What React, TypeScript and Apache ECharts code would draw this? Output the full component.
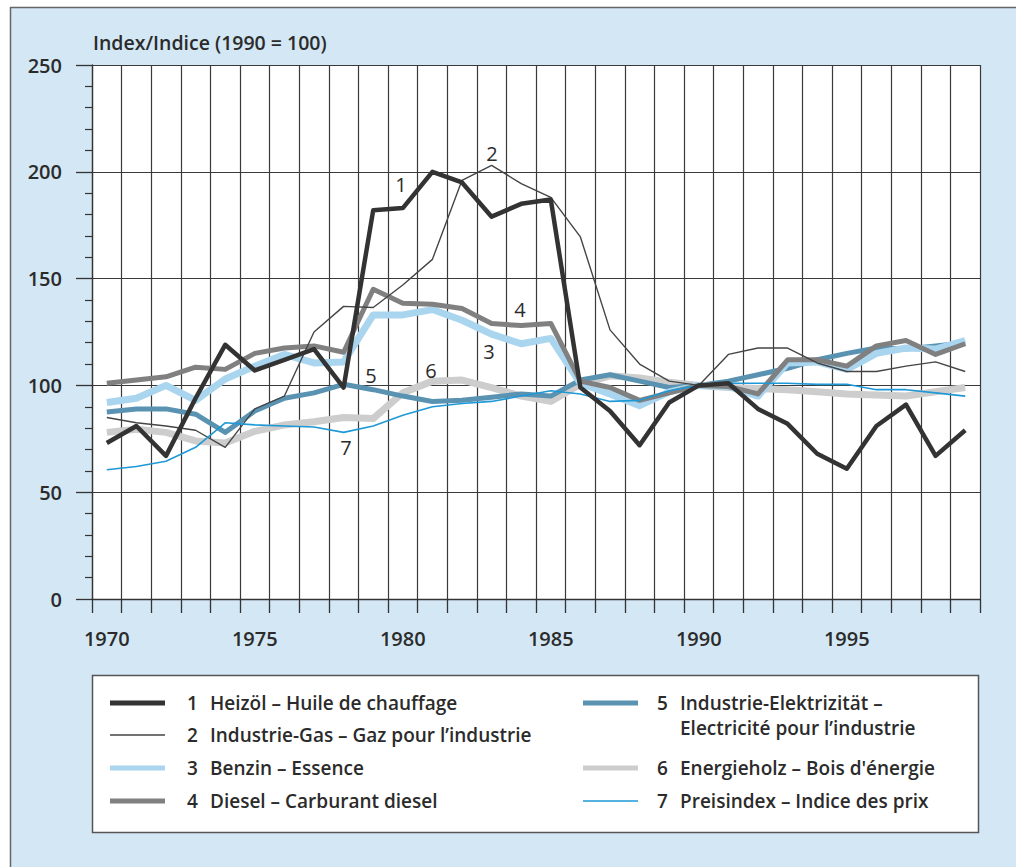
import React, { useEffect, useRef } from "react";
import * as echarts from "echarts";

const years = [
  "1970", "1971", "1972", "1973", "1974", "1975", "1976", "1977", "1978", "1979",
  "1980", "1981", "1982", "1983", "1984", "1985", "1986", "1987", "1988", "1989",
  "1990", "1991", "1992", "1993", "1994", "1995", "1996", "1997", "1998", "1999",
];

const heizoel = [73, 81, 67, 94, 119, 107, 112, 117, 99, 182, 183, 200, 195, 179, 185, 187, 99, 88, 72, 92, 100, 101, 89, 82, 68, 61, 81, 91, 67, 79];
const industrieGas = [85, 82.5, 81, 79, 71, 89, 95, 125, 137, 136.5, 147, 159, 196, 203, 194.5, 188, 169.5, 126, 110, 102, 100, 114.5, 117.5, 117.5, 110.5, 106.5, 106.5, 109, 111, 106.5];
const benzin = [92, 94, 100, 93, 103, 109, 114.5, 110.5, 111, 133, 133, 135.5, 130.5, 124, 119.5, 122, 101, 96, 90.5, 97, 100, 99.5, 95, 110.5, 111, 107.5, 115, 117.5, 117, 121];
const diesel = [101, 102.5, 104, 108.5, 107.5, 115, 117.5, 118.5, 115.5, 145, 138.5, 138, 136, 129, 128, 129, 102, 99, 93, 96.5, 100, 99.5, 96, 112, 112, 109, 118.5, 121, 114.5, 119.5];
const elektrizitaet = [87.5, 89, 89, 86.5, 78, 88, 94, 96.5, 100.5, 98, 95, 92.5, 93, 94.5, 96, 95, 102.5, 105, 102, 99, 100, 102, 105, 108, 112, 115, 117.5, 117, 118.5, 120];
const energieholz = [78, 79.5, 78, 74, 73, 78.5, 81.5, 83, 85, 84.5, 96.5, 102, 102.5, 99, 95, 92.5, 100.5, 104.5, 103.5, 101.5, 100, 99, 98.5, 98, 97, 96, 95.5, 95, 97, 99];
const preisindex = [60.5, 62, 64.5, 71, 82.5, 81.5, 81, 80.5, 78, 81, 86, 90, 91.5, 92.5, 95, 97.5, 96, 92.5, 93, 97.5, 100, 101, 101, 101, 100.5, 100.5, 98, 98, 96.5, 95];

const seriesNames = [
  "1 Heizöl – Huile de chauffage",
  "2 Industrie-Gas – Gaz pour l’industrie",
  "3 Benzin – Essence",
  "4 Diesel – Carburant diesel",
  "5 Industrie-Elektrizität – Electricité pour l’industrie",
  "6 Energieholz – Bois d'énergie",
  "7 Preisindex – Indice des prix",
];

const yTicks = [0, 50, 100, 150, 200, 250];

const FONT = "'Open Sans', 'Noto Sans', sans-serif";
const TXT = "#2b2b2b";

export default function App() {
  const ref = useRef<HTMLDivElement>(null);
  useEffect(() => {
    if (!ref.current) return;
    const chart = echarts.init(ref.current, null, { renderer: "svg" });

    const styles = [
      { color: "#333333", width: 4.5 },
      { color: "#454545", width: 1.4 },
      { color: "#a9d5ef", width: 7 },
      { color: "#808080", width: 5 },
      { color: "#5a93b2", width: 5 },
      { color: "#cdcdcd", width: 7 },
      { color: "#1e98d6", width: 1.6 },
    ];
    const data = [heizoel, industrieGas, benzin, diesel, elektrizitaet, energieholz, preisindex];
    const drawOrder = [5, 4, 2, 3, 1, 6, 0];

    const series = drawOrder.map((i, k) => ({
      type: "line",
      name: seriesNames[i],
      data: data[i],
      symbol: "none",
      z: 2 + k,
      lineStyle: { color: styles[i].color, width: styles[i].width, join: "round" },
    }));

    const legendLeft = [0, 1, 2, 3];
    const legendRight = [4, 5, 6];
    const leftRowsY = [703, 735, 768, 801];
    const rightRowsY = [703, 768, 801];
    const legendEls: any[] = [];
    const LFONT = `600 19px ${FONT}`;
    const addItem = (i: number, lx: number, nx: number, tx: number, y: number) => {
      legendEls.push({
        type: "line",
        shape: { x1: lx, y1: y, x2: lx + 55, y2: y },
        style: { stroke: styles[i].color, lineWidth: styles[i].width > 3 ? 5 : 1.6 },
        z: 20,
      });
      const full = seriesNames[i];
      const num = full.split(" ")[0];
      let rest = full.substring(num.length + 1);
      if (i === 4) rest = "Industrie-Elektrizität –\nElectricité pour l’industrie";
      legendEls.push({
        type: "text",
        x: nx,
        y: y,
        style: { text: num, font: LFONT, fill: TXT, textVerticalAlign: "middle" },
        z: 20,
      });
      legendEls.push({
        type: "text",
        x: tx,
        y: i === 4 ? y - 12.5 : y,
        style: {
          text: rest,
          font: LFONT,
          fill: TXT,
          textVerticalAlign: i === 4 ? "top" : "middle",
          lineHeight: 25,
        },
        z: 20,
      });
    };
    legendLeft.forEach((i, r) => addItem(i, 110, 187, 210, leftRowsY[r]));
    legendRight.forEach((i, r) => addItem(i, 583, 657, 680, rightRowsY[r]));

    const anno = [
      ["1", 401, 184],
      ["2", 492, 153],
      ["3", 489, 351],
      ["4", 520, 309],
      ["5", 371, 375],
      ["6", 431, 370],
      ["7", 346, 447],
    ];

    chart.setOption({
      animation: false,
      backgroundColor: "#d3e7f5",
      textStyle: { fontFamily: FONT },
      grid: {
        left: 92,
        right: 36,
        top: 65,
        bottom: 268,
        show: true,
        backgroundColor: "#ffffff",
        borderWidth: 0,
      },
      xAxis: {
        type: "category",
        data: years,
        boundaryGap: true,
        axisLine: { show: true, lineStyle: { color: "#333", width: 1.3 } },
        axisTick: { show: true, interval: 0, length: 14, lineStyle: { color: "#333", width: 1.3 } },
        axisLabel: {
          interval: 4,
          margin: 29,
          fontSize: 20,
          fontWeight: 600,
          color: TXT,
          fontFamily: FONT,
        },
        splitLine: { show: true, interval: 0, lineStyle: { color: "#3a3a3a", width: 1.2 } },
      },
      yAxis: {
        type: "value",
        min: yTicks[0],
        max: yTicks[yTicks.length - 1],
        interval: 50,
        axisLine: { show: true, lineStyle: { color: "#333", width: 1.3 } },
        axisTick: { show: true, length: 16, lineStyle: { color: "#333", width: 1.3 } },
        minorTick: { show: true, splitNumber: 5, length: 7, lineStyle: { color: "#333", width: 1.2 } },
        axisLabel: {
          margin: 30,
          fontSize: 20,
          fontWeight: 600,
          color: TXT,
          fontFamily: FONT,
        },
        splitLine: { show: true, lineStyle: { color: "#3a3a3a", width: 1.2 } },
      },
      series,
      graphic: [
        { type: "rect", shape: { x: 0, y: 0, width: 1016, height: 7 }, style: { fill: "#ffffff" }, z: 30 },
        { type: "rect", shape: { x: 0, y: 0, width: 10, height: 867 }, style: { fill: "#ffffff" }, z: 30 },
        { type: "line", shape: { x1: 10, y1: 7.5, x2: 1016, y2: 7.5 }, style: { stroke: "#666", lineWidth: 1.5 }, z: 31 },
        { type: "line", shape: { x1: 10.5, y1: 7, x2: 10.5, y2: 867 }, style: { stroke: "#666", lineWidth: 1.5 }, z: 31 },
        {
          type: "text",
          x: 93,
          y: 42,
          style: {
            text: "Index/Indice (1990 = 100)",
            font: `600 19.5px ${FONT}`,
            fill: TXT,
            textVerticalAlign: "middle",
          },
          z: 20,
        },
        {
          type: "rect",
          shape: { x: 92.5, y: 675.5, width: 886, height: 157 },
          style: { fill: "#ffffff", stroke: "#555", lineWidth: 1.5 },
          z: 10,
        },
        ...legendEls,
        ...anno.map((a) => ({
          type: "text",
          x: a[1] as number,
          y: a[2] as number,
          style: {
            text: a[0] as string,
            font: `400 20px ${FONT}`,
            fill: TXT,
            textAlign: "center",
            textVerticalAlign: "middle",
          },
          z: 20,
        })),
      ],
    });
    return () => chart.dispose();
  }, []);
  return (
    <div
      ref={ref}
      style={{ position: "fixed", left: 0, top: 0, width: 1016, height: 867 }}
    />
  );
}
